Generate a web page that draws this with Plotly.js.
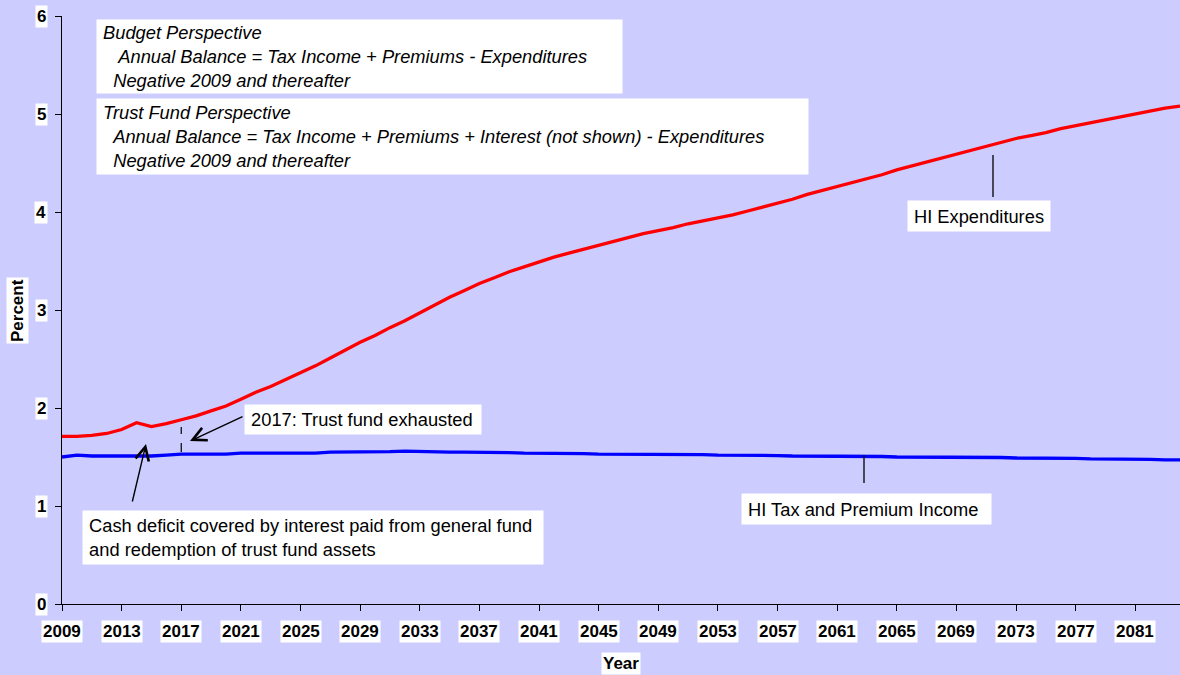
<!DOCTYPE html>
<html>
<head>
<meta charset="utf-8">
<script src="https://cdn.plot.ly/plotly-3.0.1.min.js"></script>
<style>html,body{margin:0;padding:0;background:#CCCCFF;}#chart{width:1180px;height:675px;}</style>
</head>
<body>
<div id="chart"></div>
<script>
// ---- data ----
var years = [];
for (var yy = 2009; yy <= 2084; yy++) years.push(yy);

var hiExpenditures = [
  1.71, 1.71, 1.72, 1.74, 1.78, 1.85, 1.81, 1.84, 1.88, 1.92,   // 2009-2018
  1.97, 2.02, 2.09, 2.16, 2.22, 2.29, 2.36, 2.43, 2.51, 2.59,   // 2019-2028
  2.67, 2.74, 2.82, 2.89, 2.97, 3.05, 3.13, 3.20, 3.27, 3.33,   // 2029-2038
  3.39, 3.44, 3.49, 3.54, 3.58, 3.62, 3.66, 3.70, 3.74, 3.78,   // 2039-2048
  3.81, 3.84, 3.88, 3.91, 3.94, 3.97, 4.01, 4.05, 4.09, 4.13,   // 2049-2058
  4.18, 4.22, 4.26, 4.30, 4.34, 4.38, 4.43, 4.47, 4.51, 4.55,   // 2059-2068
  4.59, 4.63, 4.67, 4.71, 4.75, 4.78, 4.81, 4.85, 4.88, 4.91,   // 2069-2078
  4.94, 4.97, 5.00, 5.03, 5.06, 5.08                            // 2079-2084
];

var hiIncome = [
  1.50, 1.52, 1.51, 1.51, 1.51, 1.51, 1.51, 1.52, 1.53, 1.53,   // 2009-2018
  1.53, 1.53, 1.54, 1.54, 1.54, 1.54, 1.54, 1.54, 1.55, 1.55,   // 2019-2028
  1.55, 1.55, 1.555, 1.56, 1.555, 1.55, 1.55, 1.55, 1.55, 1.55, // 2029-2038
  1.545, 1.54, 1.54, 1.54, 1.535, 1.535, 1.53, 1.53, 1.53, 1.53,// 2039-2048
  1.53, 1.53, 1.525, 1.525, 1.52, 1.52, 1.52, 1.515, 1.515, 1.51,// 2049-2058
  1.51, 1.51, 1.51, 1.51, 1.51, 1.505, 1.50, 1.50, 1.50, 1.50,  // 2059-2068
  1.50, 1.50, 1.495, 1.495, 1.49, 1.49, 1.49, 1.485, 1.485, 1.48,// 2069-2078
  1.48, 1.48, 1.475, 1.475, 1.47, 1.47                          // 2079-2084
];

var xTickVals = [2009, 2013, 2017, 2021, 2025, 2029, 2033, 2037, 2041, 2045,
                 2049, 2053, 2057, 2061, 2065, 2069, 2073, 2077, 2081];
var yTickVals = [0, 1, 2, 3, 4, 5, 6];
var exhaustYear = 2017;

// ---- layout helpers (pixel -> paper / axis units) ----
var W = 1180, H = 675, ML = 62, MR = 0, MT = 16, MB = 71;
var PW = W - ML - MR, PH = H - MT - MB;
function px(x) { return (x - ML) / PW; }
function py(y) { return (H - MB - y) / PH; }
function val(yPix) { return (H - MB - yPix) / PH * 6; }
function xyr(xPix) { return 2009 + (xPix - ML) / PW * 75; }
var NB = '\u00A0';
var FONT = 'Liberation Sans, Arial, sans-serif';

var traces = [
  { x: years, y: hiIncome, type: 'scatter', mode: 'lines',
    line: { color: '#0000FF', width: 3.3 }, hoverinfo: 'skip', name: 'HI Tax and Premium Income' },
  { x: years, y: hiExpenditures, type: 'scatter', mode: 'lines',
    line: { color: '#FF0000', width: 3.3 }, hoverinfo: 'skip', name: 'HI Expenditures' }
];

var ann = [];
xTickVals.forEach(function (v) {
  ann.push({ x: v, xref: 'x', y: py(631), yref: 'paper', text: String(v), showarrow: false,
    xanchor: 'center', yanchor: 'middle', bgcolor: '#FFFFFF', borderpad: 1,
    font: { family: FONT, size: 17, color: '#000', weight: 'bold' } });
});
yTickVals.forEach(function (v) {
  ann.push({ x: px(48), xref: 'paper', y: v, yref: 'y', text: String(v), showarrow: false,
    xanchor: 'right', yanchor: 'middle', bgcolor: '#FFFFFF', borderpad: 1,
    font: { family: FONT, size: 17, color: '#000', weight: 'bold' } });
});
ann.push({ x: px(17), xref: 'paper', y: py(311), yref: 'paper', text: 'Percent', textangle: -90,
  showarrow: false, xanchor: 'center', yanchor: 'middle', bgcolor: '#FFFFFF', borderpad: 1,
  font: { family: FONT, size: 17, color: '#000', weight: 'bold' } });
ann.push({ x: px(621), xref: 'paper', y: py(664), yref: 'paper', text: 'Year',
  showarrow: false, xanchor: 'center', yanchor: 'middle', bgcolor: '#FFFFFF', borderpad: 1,
  font: { family: FONT, size: 17, color: '#000', weight: 'bold' } });

function box(left, top, w, h, text, italic, align) {
  ann.push({ x: px(left), xref: 'paper', y: py(top), yref: 'paper', xanchor: 'left', yanchor: 'top',
    text: text, showarrow: false, bgcolor: '#FFFFFF', borderpad: 1, width: w - 2, height: h - 2,
    align: align || 'left', valign: 'middle',
    font: { family: FONT, size: 18.3, color: '#000', style: italic ? 'italic' : 'normal' } });
}
box(96, 19, 525, 73,
  NB + 'Budget Perspective<br>' +
  NB + NB + NB + NB + 'Annual Balance = Tax Income + Premiums - Expenditures<br>' +
  NB + NB + NB + 'Negative 2009 and thereafter', true);
box(96, 98, 711, 75,
  NB + 'Trust Fund Perspective<br>' +
  NB + NB + NB + 'Annual Balance = Tax Income + Premiums + Interest (not shown) - Expenditures<br>' +
  NB + NB + NB + 'Negative 2009 and thereafter', true);
box(907, 200, 142, 30, 'HI Expenditures', false, 'center');
box(741, 493, 249, 30, NB + 'HI Tax and Premium Income', false);
box(244, 404, 236, 29, NB + '2017: Trust fund exhausted', false);
box(82, 510, 460, 53, NB + 'Cash deficit covered by interest paid from general fund<br>' +
  NB + 'and redemption of trust fund assets', false);

ann.push({ x: xyr(190), y: val(441), xref: 'x', yref: 'y', ax: xyr(244), ay: val(416),
  axref: 'x', ayref: 'y', text: '', showarrow: true, arrowhead: 5, arrowsize: 1.9,
  arrowwidth: 1.4, arrowcolor: '#000' });
ann.push({ x: xyr(146), y: val(444), xref: 'x', yref: 'y', ax: xyr(132), ay: val(503),
  axref: 'x', ayref: 'y', text: '', showarrow: true, arrowhead: 5, arrowsize: 1.9,
  arrowwidth: 1.4, arrowcolor: '#000' });

var shapes = [
  { type: 'line', xref: 'x', yref: 'y', x0: exhaustYear, x1: exhaustYear, y0: val(452), y1: val(427),
    line: { color: '#000', width: 1.2, dash: 'dash' } },
  { type: 'line', xref: 'x', yref: 'y', x0: xyr(993), x1: xyr(993), y0: val(197), y1: val(155),
    line: { color: '#000', width: 1.3 } },
  { type: 'line', xref: 'x', yref: 'y', x0: xyr(864), x1: xyr(864), y0: val(483), y1: val(455),
    line: { color: '#000', width: 1.3 } }
];

var layout = {
  width: W, height: H,
  margin: { l: ML, r: MR, t: MT, b: MB, pad: 0 },
  paper_bgcolor: '#CCCCFF', plot_bgcolor: '#CCCCFF',
  showlegend: false,
  xaxis: { range: [2009, 2084], tickvals: xTickVals, showticklabels: false, ticks: 'outside',
    ticklen: 6, tickcolor: '#000', tickwidth: 1, showline: true, linecolor: '#000', linewidth: 1.3,
    showgrid: false, zeroline: false, fixedrange: true },
  yaxis: { range: [0, 6], tickvals: yTickVals, showticklabels: false, ticks: 'outside',
    ticklen: 6, tickcolor: '#000', tickwidth: 1, showline: true, linecolor: '#000', linewidth: 1.3,
    showgrid: false, zeroline: false, fixedrange: true },
  annotations: ann,
  shapes: shapes,
  font: { family: FONT }
};

Plotly.newPlot('chart', traces, layout, { displayModeBar: false, staticPlot: true });
</script>
</body>
</html>
